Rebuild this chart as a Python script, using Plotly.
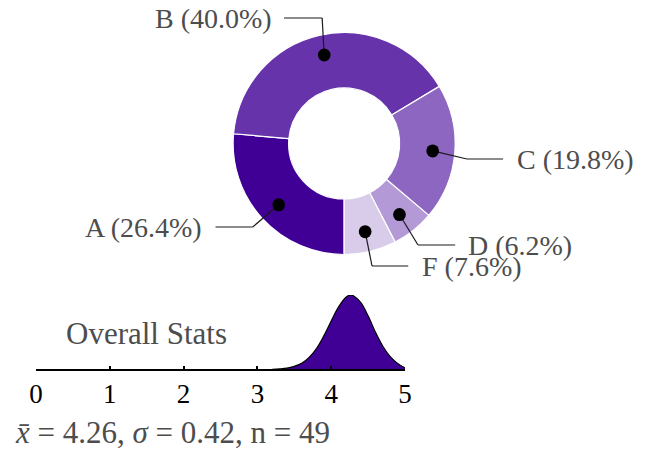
import math
import plotly.graph_objects as go

# grade shares (percent) shown in the donut
grades = ["A", "B", "C", "D", "F"]
shares = [26.4, 40.0, 19.8, 6.2, 7.6]
slice_colors = ["#400096", "#6633ab", "#8c66c0", "#b399d5", "#d9ccea"]

# overall score distribution, heights (relative to peak)
density_x = [3.2, 3.3, 3.4, 3.5, 3.6, 3.7, 3.8, 3.9, 4.0, 4.1, 4.2, 4.26,
             4.3, 4.4, 4.5, 4.6, 4.7, 4.8, 4.9, 5.0]
density_y = [0.0, 0.005, 0.015, 0.04, 0.08, 0.16, 0.28, 0.45, 0.65, 0.84, 0.97, 1.0,
             0.99, 0.90, 0.72, 0.50, 0.31, 0.17, 0.08, 0.02]
tick_vals = [0, 1, 2, 3, 4, 5]

mean_score = 4.26
sd_score = 0.42
n_students = 49

W, H = 649, 452
OFF = 8                       # page body margin
FW, FH = W - OFF, H - OFF
CX, CY, R = 344.5, 143.5, 113.5   # donut centre / radius in window pixels
DOT_R = 0.8 * R
TEXT = "#4d4d4d"
FONT = "Liberation Serif"


def px(x):
    return (x - OFF) / FW


def py(y):
    return 1 - (y - OFF) / FH


# label layout: elbow x, elbow y, line end x, text x, anchor
label_spots = {
    "A": (251, 227, 213, 201, "right"),
    "B": (322, 18, 283, 273, "right"),
    "C": (470, 159, 507, 519, "left"),
    "D": (420, 245, 458, 469, "left"),
    "F": (373, 266, 410, 422, "left"),
}

fig = go.Figure()

fig.add_trace(go.Pie(
    labels=grades, values=shares, sort=False, direction="clockwise",
    rotation=180, hole=0.5, textinfo="none", hoverinfo="skip",
    marker=dict(colors=slice_colors, line=dict(color="white", width=1.2)),
    domain=dict(x=[px(CX - R), px(CX + R)], y=[py(CY + R), py(CY - R)]),
    showlegend=False,
))

# invisible pixel-space axes for the leader lines
fig.add_trace(go.Scatter(x=[], y=[], xaxis="x2", yaxis="y2", showlegend=False))

fig.add_trace(go.Scatter(
    x=density_x, y=density_y, xaxis="x3", yaxis="y3", mode="lines",
    line=dict(color="black", width=1.2, shape="spline"),
    fill="tozeroy", fillcolor="#400096", hoverinfo="skip", showlegend=False,
))

shapes = []
annotations = []
total = sum(shares)
start = 180.0
for g, v in zip(grades, shares):
    span = 360.0 * v / total
    mid = math.radians(start + span / 2)
    start += span
    dx = CX + DOT_R * math.sin(mid)
    dy = CY - DOT_R * math.cos(mid)
    ex, ey, lx, tx, anchor = label_spots[g]
    line = dict(color="#1a1a1a", width=1.2)
    shapes.append(dict(type="line", xref="x2", yref="y2", x0=dx, y0=dy, x1=ex, y1=ey,
                       line=line, layer="above"))
    shapes.append(dict(type="line", xref="x2", yref="y2", x0=ex, y0=ey, x1=lx, y1=ey,
                       line=line, layer="above"))
    shapes.append(dict(type="circle", xref="x2", yref="y2",
                       x0=dx - 6.5, x1=dx + 6.5, y0=dy - 6.5, y1=dy + 6.5,
                       fillcolor="black", line=dict(width=0), layer="above"))
    annotations.append(dict(x=tx, y=ey, xref="x2", yref="y2", text=f"{g} ({v:.1f}%)",
                            showarrow=False, xanchor=anchor, yanchor="middle",
                            font=dict(family=FONT, size=28, color=TEXT)))

annotations.append(dict(x=142.5, y=333, xref="x2", yref="y2", text="Overall Stats",
                        showarrow=False, xanchor="center", yanchor="middle",
                        font=dict(family=FONT, size=31, color=TEXT)))
annotations.append(dict(
    x=10, y=432, xref="x2", yref="y2", xshift=-4,
    text=f"<i>x\u0304</i> = {mean_score:.2f}, <i>\u03c3</i> = {sd_score:.2f}, n = {n_students}",
    showarrow=False, xanchor="left", yanchor="middle",
    font=dict(family=FONT, size=31, color=TEXT)))

fig.update_layout(
    width=FW, height=FH, autosize=False,
    margin=dict(l=0, r=0, t=0, b=0),
    paper_bgcolor="white", plot_bgcolor="rgba(0,0,0,0)",
    xaxis2=dict(domain=[0, 1], range=[OFF, W], visible=False, anchor="y2", fixedrange=True),
    yaxis2=dict(domain=[0, 1], range=[H, OFF], visible=False, anchor="x2", fixedrange=True),
    xaxis3=dict(domain=[px(29.5), px(406.7)], range=[0, 5], anchor="y3",
                tickvals=tick_vals, ticks="inside", ticklen=4, tickwidth=1.5,
                tickcolor="black", showline=True, linecolor="black", linewidth=1.5,
                showgrid=False, zeroline=False, fixedrange=True,
                tickfont=dict(family=FONT, size=27, color="black")),
    yaxis3=dict(domain=[py(369.3), py(295)], range=[0, 1.0], anchor="x3",
                visible=False, fixedrange=True),
    shapes=shapes,
    annotations=annotations,
)

fig.write_html("out.html")
